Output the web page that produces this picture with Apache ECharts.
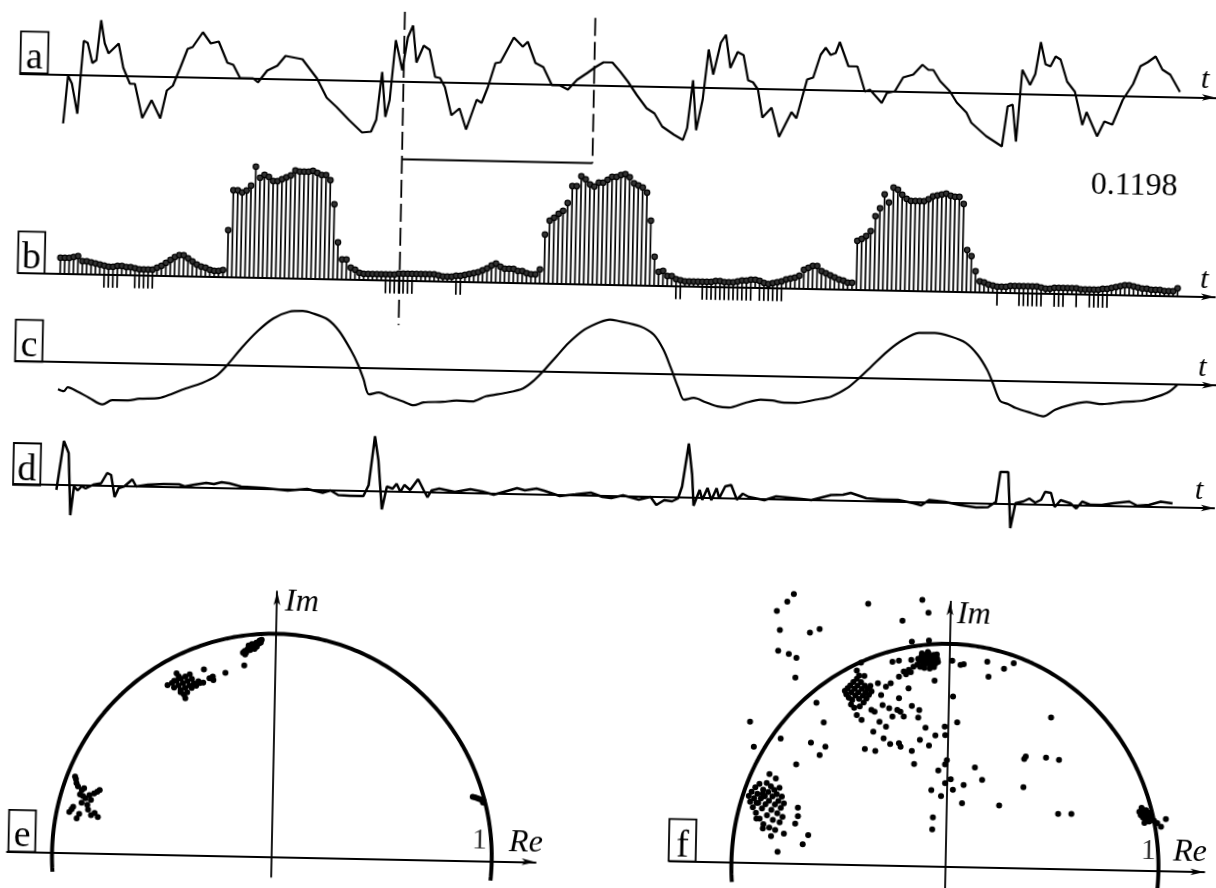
<!DOCTYPE html>
<html><head><meta charset="utf-8">
<script src="https://cdn.jsdelivr.net/npm/echarts@6/dist/echarts.min.js"></script>
<style>
html,body{margin:0;padding:0;background:#fff;overflow:hidden;}
#chart{width:1216px;height:888px;transform:rotate(1.157deg);transform-origin:608px 444px;}
</style></head><body><div id="chart"></div>
<script>
// ---------- DATA ----------
// panel a: raw signal, [t, amplitude]
const aSignal = [[64,-49],[68,-1],[72,-9],[78,-39],[83,34],[87,32],[92,12],[96,15],[100,55],[104,32],[108,22],[118,32],[123,8],[130,-8],[135,-8],[143,-42],[152,-24],[161,-42],[167,-14],[173,-9],[180,9],[187,28],[192,30],[202,45],[210,34],[218,36],[227,15],[233,13],[240,0],[253,0],[258,-4],[267,8],[277,13],[285,23],[302,20],[317,1],[327,-18],[337,-27],[350,-40],[363,-52],[372,-51],[377,-39],[382,9],[386,-36],[390,-19],[395,41],[402,11],[407,44],[412,56],[416,19],[423,36],[429,32],[435,5],[440,4],[445,-5],[452,-33],[460,-26],[467,-47],[477,-17],[482,-20],[488,-4],[495,20],[500,21],[513,46],[522,37],[527,42],[535,21],[543,17],[552,-1],[560,-1],[568,-5],[577,5],[587,12],[595,18],[603,23],[612,23],[620,14],[628,4],[637,-9],[647,-22],[655,-27],[663,-40],[675,-48],[684,-53],[688,-41],[693,7],[697,-43],[703,-12],[708,38],[713,13],[720,45],[725,53],[730,20],[737,36],[743,33],[748,8],[753,6],[758,-1],[763,-29],[772,-19],[780,-48],[792,-23],[797,-29],[807,10],[813,12],[820,35],[825,42],[830,35],[835,37],[839,48],[848,24],[857,24],[865,-1],[870,1],[882,-12],[887,-2],[895,0],[903,14],[913,17],[922,27],[928,22],[933,22],[940,11],[950,1],[957,-10],[967,-20],[972,-30],[987,-43],[1003,-53],[1008,-13],[1013,-11],[1017,-48],[1022,24],[1030,9],[1035,20],[1040,52],[1045,30],[1050,28],[1055,38],[1060,35],[1067,13],[1075,3],[1083,-30],[1087,-17],[1098,-41],[1105,-26],[1113,-29],[1123,-4],[1133,12],[1140,30],[1147,34],[1155,40],[1162,27],[1170,22],[1180,5]];

// panel b: stem heights per sample (sample index = position in list)
const bHeights = [16,16,16,17,18, 13,13,12,11,10, 9,8,8,9,9, 8,8,7,6,6, 6,6,8,10,13, 16,19,21,21,18, 15,12,10,9,7, 6,6,7,
 47,87,87,85,87,92,111,100,103,101,97,97,99,101,103,108,107,107,107,108,106,104,104,99,75,37,
 20,20,12,10,7, 6,6,6,6,6,6,6,6,7,7,7, 7,7,7,7,7,7, 6,5,5,5,6,6, 7,8,9,10,12,14,17,19, 16,14,14,14,12,12,10,9,9, 14,
 49,63,66,70,73,81,98,98,108,105,100,98,102,102,105,108,108,110,111,108,102,100,98,93,65,29,
 14,15,10,10,7, 6,5,5,5,5,5,5,5,6,6, 5,5,5,6,7,7,8,8,7, 5,4,5,6,7,9,10,11,13, 19,21,23,23, 18,16,14,12,10,9,7,7,
 49,51,54,59,74,82,96,88,103,101,96,92,90,90,90,90,92,95,96,97,98,96,95,95,88,
 42,36,21,11,10,8,7,6, 6,6,7,7,7,7,7,7,7, 6,5,5,6,6,6,6,6,6, 5,5,5,5,5,6,6,7, 8,9,10,10,9,8,7,7, 6,6,6,5,5,5,8];
// panel b: samples that also carry a negative stem, and its length
const bNegIdx = [10,11,12,13,17,18,19,20,21,74,75,76,77,78,79,80,90,91,140,141,146,147,148,149,150,151,152,153,154,155,156,157,159,160,161,162,163,164,213,218,219,220,221,222,223,226,227,228,231,234,235,236,237,238];
const bNegLen = 13;
const bValue = '0.1198';

// panel c: smoothed component
const cSignal = [[58.4,-27],[64.2,-29],[68.1,-25],[77.8,-29],[89.5,-35],[103.1,-41.5],[112.8,-37],[128.4,-37],[140,-35],[159.5,-34],[171.2,-30],[182.8,-25],[202.3,-18],[215.9,-11],[227.6,1],[241.2,18],[256.8,35],[272.3,48],[287.9,55],[301.5,56],[311.2,54],[326.8,48],[338.5,36.5],[350.1,18.4],[357.9,3.5],[363.7,-11],[369.6,-26],[379.3,-24],[389,-27.5],[402.6,-32],[414.3,-36],[424,-33],[443.5,-32],[457.1,-30.5],[472.7,-31],[486.3,-25.6],[505.7,-21.8],[523.2,-17],[534.9,-8],[544.6,2.3],[556.3,16],[568,29.4],[583.5,43],[599.1,51],[608.8,53.6],[615.7,52.7],[639.3,47.5],[653,39.4],[662.9,24.6],[670.7,6.5],[678.6,-13.3],[684.5,-25],[694.3,-23],[706.1,-27],[717.9,-31],[729.6,-32],[745.4,-27],[761.1,-23.4],[772.9,-24],[784.6,-26],[796.4,-26],[816.1,-22.3],[831.8,-18.7],[847.5,-10],[859.3,0.3],[871.1,12],[886.8,27.4],[902.5,39.4],[918.2,46.5],[933.9,46.8],[949.6,43.7],[965.3,37.4],[977.1,26],[987,11],[992.9,-2],[1000.7,-20],[1008.6,-22.7],[1016.4,-26.6],[1032.1,-31.3],[1043.9,-34.4],[1055.7,-27.5],[1071.4,-22.2],[1087.1,-19.2],[1102.8,-21],[1122.5,-18.5],[1142.1,-16.8],[1157.8,-12.2],[1169.6,-7],[1177.5,0]];

// panel d: residual
const dSignal = [[56.4,-5],[63,44],[68,32],[70.8,-30],[73.9,-1.5],[77.8,-5],[81.7,-1],[85.6,-3],[93.4,1],[101.1,2.5],[107,13],[110.9,11],[114.8,-11],[118.7,-2],[124.5,0],[132.3,7],[136.2,0],[147.8,2],[163.4,3],[179,3],[184.8,1],[194.5,3],[206.2,5],[214,4],[221.7,6],[229.5,5],[241.2,2],[264.5,1],[287.9,-1],[307.3,1],[322.9,-2.5],[330.7,0],[338.5,-4.5],[350.1,-5],[363.7,-5],[368.8,6],[374.2,55],[378.1,31],[382.4,-18],[387.1,5],[392.9,3],[396.8,8],[400.7,0],[404.6,7],[410.4,2],[418.2,13],[424,2],[427.9,-5],[431.8,2],[439.6,4],[455.2,1],[470.7,4],[482.4,2],[494.1,-1],[517.4,6],[525.2,4],[536.9,6],[544.6,4],[560.2,-1],[575.8,1],[591.3,3],[603,-1],[611.8,-2],[623.6,1],[639.3,-3],[651.1,0],[657,-8],[664.8,-3],[672.7,-4],[678.6,-1],[682.5,11],[688.4,54],[692.3,23],[694.3,-8],[700.2,8],[702.9,-2],[708,10],[712,-2],[717.1,10],[719.8,0],[725.7,12],[731.6,13.5],[737.5,-1],[743.4,5],[749.3,2],[765,-1],[776.8,3],[796.4,1.5],[812.1,0],[831.8,5.5],[843.6,6],[851.4,8],[867.1,3],[882.9,2],[898.6,2],[914.3,-1],[922.1,-3],[930,2.5],[945.7,1],[961.4,-2],[977.1,-4],[988.9,-3.6],[996.8,2],[1000.7,32],[1008.6,32],[1011.7,-24],[1016.4,1],[1024.3,3],[1030.2,6],[1036.1,2],[1042,5],[1045.9,13],[1051.8,12],[1055.7,-2],[1061.6,5],[1071.4,2],[1077.3,-3],[1083.2,4],[1091.1,1],[1102.9,1],[1114.6,3],[1130.3,5],[1138.2,1],[1150,2],[1161.8,5.5],[1173.6,4]];

// analysis window on the time axis of a/b
const windowT = [403.5, 594];

// panel e: points in the complex plane [Re, Im]
const eClusterTop = [[-0.150,0.912],[-0.142,0.920],[-0.135,0.915],[-0.130,0.928],[-0.122,0.935],[-0.118,0.925],[-0.112,0.942],[-0.105,0.938],[-0.100,0.950],[-0.095,0.945],[-0.090,0.958],[-0.085,0.952],[-0.080,0.962],[-0.075,0.968],[-0.070,0.960],[-0.066,0.972],[-0.110,0.952],[-0.098,0.930],[-0.125,0.945],[-0.088,0.940],[-0.140,0.905],[-0.078,0.955]];
const eStray = [[-0.143,0.855],[-0.228,0.821],[-0.285,0.802],[-0.282,0.787],[-0.326,0.834],[-0.328,0.774],[-0.300,0.795]];
const eClusterMid = [[-0.49,0.76],[-0.47,0.77],[-0.46,0.75],[-0.45,0.78],[-0.44,0.76],[-0.43,0.79],[-0.43,0.74],[-0.42,0.77],[-0.41,0.80],[-0.41,0.75],[-0.40,0.78],[-0.40,0.73],[-0.39,0.76],[-0.38,0.79],[-0.38,0.75],[-0.37,0.77],[-0.36,0.76],[-0.35,0.78],[-0.344,0.772],[-0.45,0.814],[-0.408,0.703],[-0.415,0.72],[-0.43,0.73],[-0.44,0.80],[-0.39,0.81],[-0.46,0.78]];
const eClusterLow = [[-0.902,0.342],[-0.898,0.330],[-0.895,0.312],[-0.888,0.298],[-0.870,0.282],[-0.860,0.290],[-0.789,0.283],[-0.800,0.275],[-0.814,0.268],[-0.828,0.238],[-0.844,0.216],[-0.853,0.245],[-0.865,0.255],[-0.878,0.262],[-0.908,0.206],[-0.925,0.183],[-0.915,0.195],[-0.891,0.154],[-0.880,0.175],[-0.826,0.170],[-0.795,0.162],[-0.840,0.195],[-0.870,0.225],[-0.835,0.260],[-0.810,0.180]];
const eClusterRight = [[0.908,0.287],[0.918,0.284],[0.928,0.281],[0.938,0.278],[0.948,0.274],[0.957,0.270],[0.955,0.262]];

// panel f: points in the complex plane [Re, Im]
const fClusterTop = [[-0.148,0.905],[-0.140,0.925],[-0.135,0.895],[-0.130,0.940],[-0.125,0.915],[-0.120,0.930],[-0.118,0.900],[-0.112,0.948],[-0.108,0.920],[-0.104,0.935],[-0.100,0.910],[-0.096,0.955],[-0.092,0.928],[-0.088,0.942],[-0.085,0.902],[-0.080,0.918],[-0.076,0.935],[-0.072,0.950],[-0.068,0.925],[-0.064,0.910],[-0.060,0.940],[-0.055,0.930],[-0.052,0.918],[-0.115,0.890],[-0.090,0.888],[-0.070,0.895],[-0.128,0.955],[-0.100,0.962],[-0.145,0.930],[-0.058,0.952],[-0.233,0.849],[-0.211,0.872],[-0.188,0.880],[-0.166,0.895],[-0.200,0.860],[-0.178,0.870]];
const fClusterMid = [[-0.485,0.780],[-0.478,0.765],[-0.472,0.792],[-0.466,0.750],[-0.460,0.805],[-0.455,0.775],[-0.450,0.740],[-0.446,0.820],[-0.440,0.790],[-0.436,0.760],[-0.430,0.835],[-0.426,0.805],[-0.422,0.775],[-0.418,0.745],[-0.414,0.712],[-0.410,0.820],[-0.405,0.790],[-0.400,0.760],[-0.396,0.730],[-0.392,0.805],[-0.388,0.775],[-0.383,0.748],[-0.378,0.790],[-0.372,0.765],[-0.366,0.805],[-0.360,0.780],[-0.440,0.705],[-0.455,0.720],[-0.395,0.848],[-0.420,0.850],[-0.315,0.765],[-0.271,0.818],[-0.293,0.803],[-0.331,0.817]];
const fClusterLow = [[-0.925,0.300],[-0.918,0.275],[-0.912,0.320],[-0.905,0.250],[-0.900,0.290],[-0.895,0.340],[-0.890,0.225],[-0.885,0.310],[-0.880,0.270],[-0.876,0.355],[-0.872,0.200],[-0.868,0.290],[-0.862,0.245],[-0.858,0.330],[-0.854,0.175],[-0.850,0.300],[-0.846,0.265],[-0.842,0.360],[-0.838,0.215],[-0.834,0.320],[-0.830,0.280],[-0.826,0.160],[-0.822,0.345],[-0.818,0.240],[-0.814,0.300],[-0.810,0.195],[-0.806,0.330],[-0.802,0.265],[-0.798,0.150],[-0.794,0.310],[-0.790,0.225],[-0.786,0.280],[-0.782,0.340],[-0.778,0.185],[-0.774,0.250],[-0.770,0.300],[-0.765,0.210],[-0.760,0.270],[-0.888,0.270],[-0.860,0.310],[-0.694,0.252],[-0.693,0.214],[-0.705,0.181],[-0.643,0.130],[-0.668,0.088],[-0.785,0.053],[-0.817,0.122],[-0.757,0.135],[-0.830,0.400],[-0.800,0.381],[-0.856,0.156],[-0.887,0.200]];
const fClusterRight = [[0.905,0.265],[0.912,0.250],[0.918,0.275],[0.922,0.240],[0.928,0.260],[0.932,0.230],[0.936,0.272],[0.940,0.250],[0.945,0.262],[0.948,0.238],[0.952,0.222],[0.955,0.255],[0.960,0.245],[0.930,0.215],[0.915,0.282],[1.008,0.200],[1.030,0.234],[0.990,0.215],[0.975,0.225]];
const fStray = [[-0.733,1.210],[-0.763,1.175],[-0.811,1.132],[-0.795,1.047],[-0.654,1.038],[-0.609,1.055],[-0.801,0.954],[-0.751,0.940],[-0.715,0.924],[-0.718,0.835],[-0.384,1.172],[-0.131,1.195],[-0.101,1.138],[-0.222,1.100],[-0.176,1.007],[-0.096,1.013],[-0.926,0.633],[-0.906,0.521],[-0.617,0.724],[-0.581,0.637],[-0.781,0.561],[-0.412,0.908],[-0.431,0.872],[-0.265,0.915],[-0.235,0.920],[-0.177,0.925],[0.015,0.925],[0.054,0.907],[0.069,0.910],[0.179,0.924],[0.258,0.893],[0.186,0.856],[0.303,0.919],[-0.066,0.834],[-0.187,0.797],[-0.231,0.752],[-0.427,0.673],[-0.404,0.651],[-0.359,0.697],[-0.344,0.689],[-0.307,0.720],[-0.276,0.706],[-0.260,0.669],[-0.238,0.699],[-0.223,0.692],[-0.207,0.670],[-0.320,0.645],[-0.289,0.623],[-0.348,0.600],[-0.299,0.571],[-0.268,0.546],[-0.227,0.550],[-0.219,0.535],[-0.386,0.521],[-0.337,0.513],[-0.166,0.517],[-0.129,0.567],[-0.086,0.542],[-0.104,0.622],[-0.057,0.588],[-0.014,0.629],[-0.011,0.591],[0.022,0.764],[0.044,0.649],[-0.170,0.718],[-0.135,0.701],[-0.139,0.667],[-0.154,0.458],[-0.040,0.431],[-0.009,0.460],[-0.001,0.479],[0.019,0.393],[-0.007,0.375],[-0.071,0.343],[-0.025,0.317],[0.030,0.346],[0.080,0.369],[0.131,0.448],[0.166,0.393],[0.074,0.287],[0.248,0.280],[-0.061,0.221],[-0.063,0.167],[0.483,0.679],[0.368,0.502],[0.361,0.491],[0.463,0.499],[0.524,0.490],[0.360,0.364],[0.525,0.248],[0.587,0.249],[-0.639,0.545],[-0.597,0.490],[-0.571,0.528],[-0.706,0.446]];

const panelLetters = ['a','b','c','d','e','f'];
const unitTick = '1';

// ---------- LAYOUT / STYLE ----------
const INK = '#000';
const SERIF = 'Liberation Serif, DejaVu Serif, serif';
const letterBoxes = [[12.8,43.3,27.6,41.6],[14.4,243.3,26.8,41.6],[13.5,331.7,27.2,41.7],[14,455,27.2,41.8],[16.7,821.8,26.8,41.7],[677,817.6,27,42]];

function timeX(gi, min, max, gap){
  return {type:'value', gridIndex:gi, min, max,
    axisLine:{show:true, onZero:true, symbol:['none','arrow'], symbolSize:[5,14], lineStyle:{color:INK,width:2}},
    axisTick:{show:false}, axisLabel:{show:false}, splitLine:{show:false},
    name:'t', nameLocation:'end', nameGap:gap,
    nameTextStyle:{fontFamily:SERIF, fontStyle:'italic', fontSize:30, color:INK, align:'center', verticalAlign:'bottom', padding:[0,0,2,0]}};
}
function hidY(gi,min,max){ return {type:'value', gridIndex:gi, min, max, show:false, splitLine:{show:false}}; }
function planeX(gi,min,max,gap){
  return {type:'value', gridIndex:gi, min, max,
    axisLine:{show:true, onZero:true, symbol:['none','arrow'], symbolSize:[5,14], lineStyle:{color:INK,width:1.8}},
    axisTick:{show:false}, axisLabel:{show:false}, splitLine:{show:false},
    name:'Re', nameLocation:'end', nameGap:gap,
    nameTextStyle:{fontFamily:SERIF, fontStyle:'italic', fontSize:32, color:INK, align:'left', verticalAlign:'bottom', padding:[0,0,3,0]}};
}
function planeY(gi,min,max,gap,padL){
  return {type:'value', gridIndex:gi, min, max,
    axisLine:{show:true, onZero:true, symbol:['none','arrow'], symbolSize:[5,14], lineStyle:{color:INK,width:1.8}},
    axisTick:{show:false}, axisLabel:{show:false}, splitLine:{show:false},
    name:'Im', nameLocation:'end', nameGap:gap,
    nameTextStyle:{fontFamily:SERIF, fontStyle:'italic', fontSize:32, color:INK, align:'left', verticalAlign:'top', padding:[0,0,0,padL]}};
}
// unit semicircle (reference curve |z| = 1)
const arc = [];
for (let d = -5; d <= 185; d += 1) { const r = d*Math.PI/180; arc.push([Math.cos(r), Math.sin(r)]); }

const dot = {type:'scatter', symbol:'circle', symbolSize:6, itemStyle:{color:INK, opacity:1}, clip:false, silent:true};
const winLine = (data, dashed) => ({type:'line', xAxisIndex:4, yAxisIndex:4, data, showSymbol:false, silent:true, clip:false,
  lineStyle:{color:INK, width:1.8, type: dashed ? [18,6] : 'solid'}});

const option = {
  animation:false,
  textStyle:{fontFamily:SERIF},
  grid:[
    {left:12.75, top:5.5, width:1196, height:160},
    {left:15.0, top:154.8, width:1196.8, height:160},
    {left:14.2, top:303.2, width:1200.4, height:140},
    {left:14.65, top:436, width:1202.4, height:120},
    {left:12.75, top:10, width:1196, height:330},
    {left:15.3, top:598.1, width:528.8, height:285.4},
    {left:677.9, top:594.6, width:551.1, height:287.7}
  ],
  xAxis:[
    timeX(0, 20, 1216, -11),
    timeX(1, -9.5, 262.5, -11),
    timeX(2, 15.6, 1216, -14),
    timeX(3, 13.6, 1216, -16),
    {type:'value', gridIndex:4, min:20, max:1216, show:false, splitLine:{show:false}},
    planeX(5, -1.205, 1.2, -27),
    planeX(6, -1.29, 1.215, -31.6)
  ],
  yAxis:[
    hidY(0,-80,80), hidY(1,-30,130), hidY(2,-70,70), hidY(3,-60,60), hidY(4,0,330),
    planeY(5,-0.09,1.19,6,8),
    planeY(6,-0.1,1.19,3.3,7)
  ],
  series:[
    {type:'line', xAxisIndex:0, yAxisIndex:0, data:aSignal, showSymbol:false, silent:true, clip:false, lineStyle:{color:INK,width:2.2}},
    {type:'bar', xAxisIndex:1, yAxisIndex:1, data:bHeights.map((h,i)=>[i,h]), barWidth:1.7, barGap:'-100%', silent:true, itemStyle:{color:INK}},
    {type:'bar', xAxisIndex:1, yAxisIndex:1, data:bNegIdx.map(i=>[i,-bNegLen]), barWidth:1.7, barGap:'-100%', silent:true, itemStyle:{color:INK}},
    {type:'scatter', xAxisIndex:1, yAxisIndex:1, data:bHeights.map((h,i)=>[i,h]), symbol:'circle', symbolSize:5.5, silent:true, clip:false,
      itemStyle:{color:'#333', borderColor:INK, borderWidth:1.2, opacity:1}},
    {type:'line', xAxisIndex:2, yAxisIndex:2, data:cSignal, smooth:0.3, showSymbol:false, silent:true, clip:false, lineStyle:{color:INK,width:2.2}},
    {type:'line', xAxisIndex:3, yAxisIndex:3, data:dSignal, showSymbol:false, silent:true, clip:false, lineStyle:{color:INK,width:2.5}},
    winLine([[windowT[0],324],[windowT[0],10.8]], true),
    winLine([[windowT[1],321.7],[windowT[1],176.5]], true),
    winLine([[windowT[0],176.5],[windowT[1],176.5]], false),
    {type:'line', xAxisIndex:5, yAxisIndex:5, data:arc, showSymbol:false, silent:true, clip:false, lineStyle:{color:INK,width:4}},
    Object.assign({}, dot, {xAxisIndex:5, yAxisIndex:5, data:[].concat(eClusterTop,eStray,eClusterMid,eClusterLow,eClusterRight)}),
    {type:'scatter', xAxisIndex:5, yAxisIndex:5, data:[[1,0]], symbolSize:0, silent:true, clip:false,
      label:{show:true, formatter:unitTick, position:'left', distance:5, offset:[0,-20], fontFamily:SERIF, fontSize:30, color:INK}},
    {type:'line', xAxisIndex:6, yAxisIndex:6, data:arc, showSymbol:false, silent:true, clip:false, lineStyle:{color:INK,width:4}},
    Object.assign({}, dot, {xAxisIndex:6, yAxisIndex:6, data:[].concat(fClusterTop,fClusterMid,fClusterLow,fClusterRight,fStray)}),
    {type:'scatter', xAxisIndex:6, yAxisIndex:6, data:[[1,0]], symbolSize:0, silent:true, clip:false,
      label:{show:true, formatter:unitTick, position:'left', distance:3, offset:[0,-20], fontFamily:SERIF, fontSize:30, color:INK}}
  ],
  graphic: panelLetters.map((L,k)=>{
    const [x,y,w,h] = letterBoxes[k];
    return {type:'group', silent:true, children:[
      {type:'rect', shape:{x:x, y:y, width:w, height:h}, style:{fill:'none', stroke:INK, lineWidth:1.8}},
      {type:'text', x:x+w/2, y:y+h-15, style:{text:L, fontFamily:SERIF, fontSize:38, fill:INK, align:'center', verticalAlign:'middle'}}
    ]};
  }).concat([
    {type:'text', silent:true, x:1128.8, y:176, style:{text:bValue, fontFamily:SERIF, fontSize:32, fill:INK, align:'center', verticalAlign:'middle'}}
  ])
};

const chart = echarts.init(document.getElementById('chart'), null, {renderer:'canvas'});
chart.setOption(option);
</script></body></html>
